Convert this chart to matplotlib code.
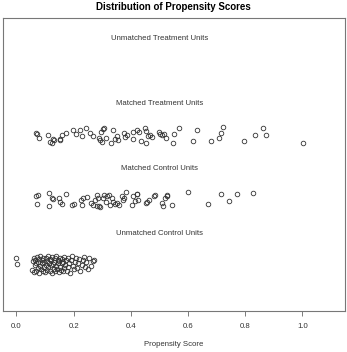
import numpy as np
import matplotlib.pyplot as plt

plt.rcParams['font.family'] = ['Liberation Sans', 'DejaVu Sans']

# group names, bottom to top
groups = ['Unmatched Control Units', 'Matched Control Units',
          'Matched Treatment Units', 'Unmatched Treatment Units']

# propensity scores (with vertical jitter offsets)
mt_x = [0.068, 0.071, 0.079, 0.112, 0.117, 0.123, 0.129, 0.132, 0.152, 0.154,
        0.161, 0.173, 0.199, 0.208, 0.224, 0.229, 0.243, 0.257, 0.266, 0.290,
        0.292, 0.294, 0.298, 0.301, 0.306, 0.313, 0.329, 0.339, 0.344, 0.350,
        0.356, 0.376, 0.381, 0.388, 0.406, 0.409, 0.422, 0.429, 0.435, 0.449,
        0.452, 0.453, 0.461, 0.467, 0.473, 0.499, 0.502, 0.508, 0.516, 0.523,
        0.546, 0.551, 0.569, 0.616, 0.630, 0.680, 0.707, 0.714, 0.721, 0.797,
        0.834, 0.861, 0.872, 1.003]
mt_j = [0.02, 0.005, -0.056, -0.02, -0.117, -0.143, -0.082, -0.097, -0.082, -0.087,
        -0.015, 0.02, 0.061, -0.005, 0.061, -0.036, 0.092, 0.015, -0.036, -0.066,
        -0.097, 0.026, -0.122, 0.071, 0.092, -0.056, -0.133, 0.061, -0.082, -0.031,
        -0.097, 0.02, -0.046, -0.015, 0.036, -0.082, 0.061, 0.036, -0.112, 0.097,
        0.046, -0.143, -0.031, -0.015, -0.041, 0.036, -0.005, -0.015, -0.005, -0.066,
        -0.133, 0.005, 0.097, -0.107, 0.061, -0.107, -0.056, 0.01, 0.107, -0.112,
        -0.015, 0.092, -0.015, -0.133]

mc_x = [0.068, 0.076, 0.071, 0.115, 0.115, 0.123, 0.129, 0.150, 0.152, 0.158,
        0.173, 0.196, 0.201, 0.226, 0.228, 0.234, 0.248, 0.259, 0.266, 0.274,
        0.280, 0.283, 0.286, 0.290, 0.292, 0.304, 0.306, 0.313, 0.318, 0.325,
        0.327, 0.333, 0.339, 0.344, 0.350, 0.360, 0.368, 0.371, 0.376, 0.383,
        0.403, 0.406, 0.414, 0.420, 0.422, 0.426, 0.453, 0.457, 0.464, 0.481,
        0.484, 0.508, 0.513, 0.519, 0.525, 0.527, 0.543, 0.601, 0.671, 0.717,
        0.744, 0.770, 0.826]
mc_j = [0.051, 0.066, -0.071, 0.092, -0.102, 0.015, 0.005, 0.015, -0.051, -0.071,
        0.082, -0.087, -0.071, -0.010, -0.087, 0.015, 0.031, -0.061, -0.087, -0.010,
        -0.102, 0.066, 0.015, -0.112, -0.122, 0.015, 0.066, -0.051, 0.051, 0.066,
        -0.087, 0.015, -0.051, -0.071, -0.061, -0.087, 0.041, -0.010, 0.015, 0.102,
        -0.087, 0.041, -0.036, 0.082, 0.082, -0.010, -0.061, -0.051, -0.020, 0.041,
        0.066, -0.061, -0.102, 0.015, 0.066, 0.041, -0.087, 0.102, -0.071, 0.082,
        -0.036, 0.082, 0.092]

uc_x = [0.000, 0.001, 0.055, 0.058, 0.060, 0.062, 0.064, 0.066, 0.068, 0.070,
        0.072, 0.074, 0.076, 0.078, 0.080, 0.082, 0.084, 0.086, 0.088, 0.090,
        0.092, 0.094, 0.096, 0.098, 0.100, 0.102, 0.104, 0.106, 0.108, 0.110,
        0.112, 0.114, 0.116, 0.118, 0.120, 0.122, 0.124, 0.126, 0.128, 0.130,
        0.132, 0.134, 0.136, 0.138, 0.140, 0.142, 0.144, 0.146, 0.148, 0.150,
        0.152, 0.154, 0.156, 0.158, 0.160, 0.162, 0.164, 0.166, 0.168, 0.170,
        0.173, 0.176, 0.179, 0.182, 0.185, 0.188, 0.191, 0.194, 0.197, 0.200,
        0.204, 0.208, 0.212, 0.216, 0.220, 0.224, 0.228, 0.232, 0.236, 0.240,
        0.245, 0.250, 0.255, 0.260, 0.266, 0.272]
uc_j = [0.09, 0.0, -0.09, 0.05, -0.12, 0.10, -0.02, 0.07, -0.11, 0.02,
        0.11, -0.06, 0.04, -0.13, 0.08, -0.03, 0.12, -0.08, 0.01, 0.06,
        -0.10, 0.09, -0.04, 0.03, -0.12, 0.10, -0.01, 0.05, -0.09, 0.12,
        -0.05, 0.02, -0.11, 0.08, -0.02, 0.06, -0.13, 0.11, 0.00, -0.07,
        0.04, -0.10, 0.09, -0.03, 0.12, -0.08, 0.02, 0.07, -0.12, 0.05,
        -0.04, 0.10, -0.09, 0.01, 0.08, -0.11, 0.03, -0.06, 0.11, -0.01,
        0.06, -0.10, 0.09, -0.05, 0.02, -0.13, 0.07, 0.12, -0.03, -0.08,
        0.04, 0.10, -0.06, 0.01, 0.08, -0.10, -0.02, 0.06, 0.11, -0.05,
        0.03, -0.08, 0.09, -0.03, 0.05, 0.07]

ut_x = []  # no unmatched treated units
ut_j = []

xs = [uc_x, mc_x, mt_x, ut_x]
js = [uc_j, mc_j, mt_j, ut_j]

fig = plt.figure(figsize=(3.47, 3.52), dpi=100)
ax = fig.add_axes([3/347, 1 - 311/352, 342/347, 293/352])

for i, (x, j) in enumerate(zip(xs, js)):
    level = i + 1
    if len(x):
        ax.plot(x, level + np.array(j), 'o', ms=3.3, mfc='none', mec='#333333', mew=0.6)
    ax.text(0.5, level + 0.47, groups[i], ha='center', va='center',
            fontsize=5.6, color='#333333')

ax.set_xlim(-0.047, 1.149)
ax.set_ylim(0.28, 4.78)
ax.set_yticks([])
ax.set_xticks([0.0, 0.2, 0.4, 0.6, 0.8, 1.0])
ax.set_xticklabels(['0.0', '0.2', '0.4', '0.6', '0.8', '1.0'])
ax.tick_params(axis='x', length=3.5, width=0.6, color='#666666', labelsize=5.6,
               labelcolor='#333333', pad=5)
for sp in ax.spines.values():
    sp.set_color('#777777')
    sp.set_linewidth(0.8)
ax.set_xlabel('Propensity Score', fontsize=5.6, color='#333333', labelpad=8)
fig.suptitle('Distribution of Propensity Scores', fontsize=7, fontweight='bold',
             y=0.993, va='top')

fig.savefig('out.png', dpi=100)
